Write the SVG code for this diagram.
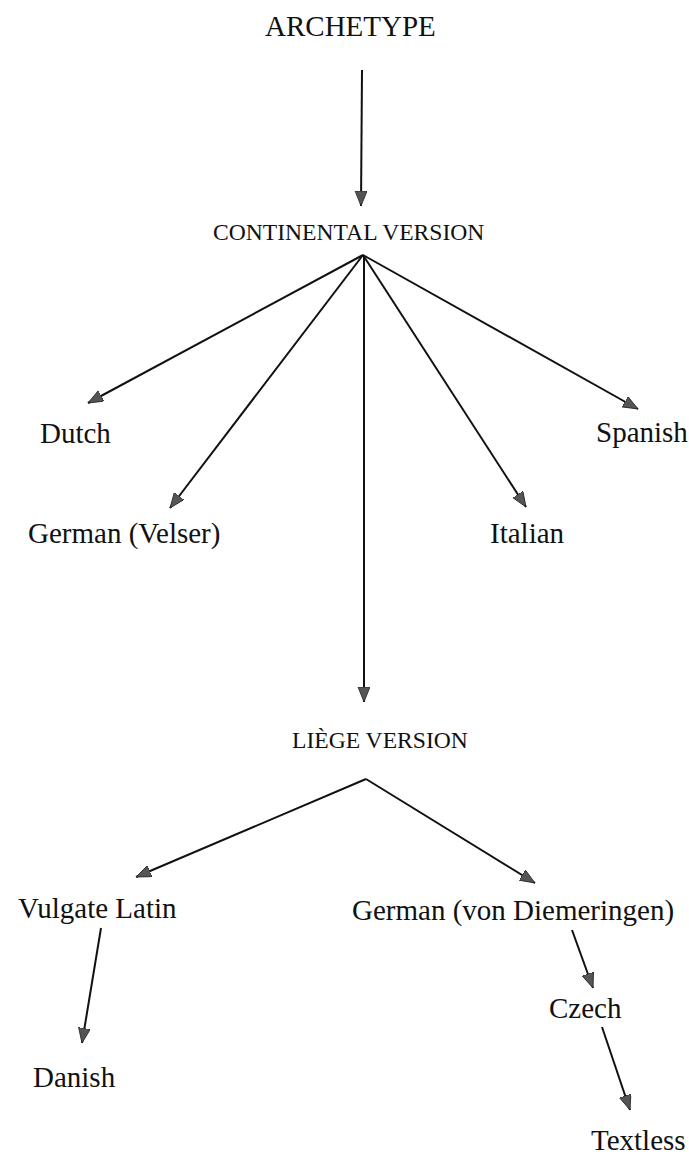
<svg xmlns="http://www.w3.org/2000/svg" width="689" height="1155" viewBox="0 0 689 1155">
<style>
  .lbl { font-family: "Liberation Serif", "Times New Roman", serif; font-size: 29px; fill: #111; }
  .ver { font-family: "Liberation Serif", "Times New Roman", serif; font-size: 23.6px; fill: #111; }
  .edge { stroke: #111; stroke-width: 2; fill: none; marker-end: url(#arrow); }
</style>
<defs>
  <marker id="arrow" markerUnits="userSpaceOnUse" markerWidth="16" markerHeight="14" refX="15" refY="6" orient="auto">
    <path d="M0,0 L15,6 L0,12 z" fill="#555" stroke="#222" stroke-width="0.8"/>
  </marker>
</defs>
<rect width="689" height="1155" fill="#fff"/>
<g id="connectors">
  <path class="edge" d="M362,70 L361,206"/>
  <path class="edge" d="M363,255 L88,403"/>
  <path class="edge" d="M363,255 L170,508"/>
  <path class="edge" d="M364,255 L364,702"/>
  <path class="edge" d="M363,255 L526,507"/>
  <path class="edge" d="M363,255 L638,409"/>
  <path class="edge" d="M366,779 L136,877"/>
  <path class="edge" d="M366,779 L535,883"/>
  <path class="edge" d="M101,928 L82,1043"/>
  <path class="edge" d="M572,930 L593,988"/>
  <path class="edge" d="M602,1027 L630,1110"/>
</g>
<g id="archetype"><text class="lbl" x="265" y="36">ARCHETYPE</text></g>
<g id="continental"><text class="ver" x="213" y="240">CONTINENTAL VERSION</text></g>
<g id="dutch"><text class="lbl" x="40" y="443">Dutch</text></g>
<g id="spanish"><text class="lbl" x="596" y="442">Spanish</text></g>
<g id="german-velser"><text class="lbl" x="28" y="543">German (Velser)</text></g>
<g id="italian"><text class="lbl" x="490" y="543">Italian</text></g>
<g id="liege"><text class="ver" x="292" y="748">LIÈGE VERSION</text></g>
<g id="vulgate-latin"><text class="lbl" x="18" y="918">Vulgate Latin</text></g>
<g id="german-diemeringen"><text class="lbl" x="352" y="920">German (von Diemeringen)</text></g>
<g id="czech"><text class="lbl" x="549" y="1018">Czech</text></g>
<g id="danish"><text class="lbl" x="33" y="1087">Danish</text></g>
<g id="textless"><text class="lbl" x="591" y="1150">Textless</text></g>
</svg>
